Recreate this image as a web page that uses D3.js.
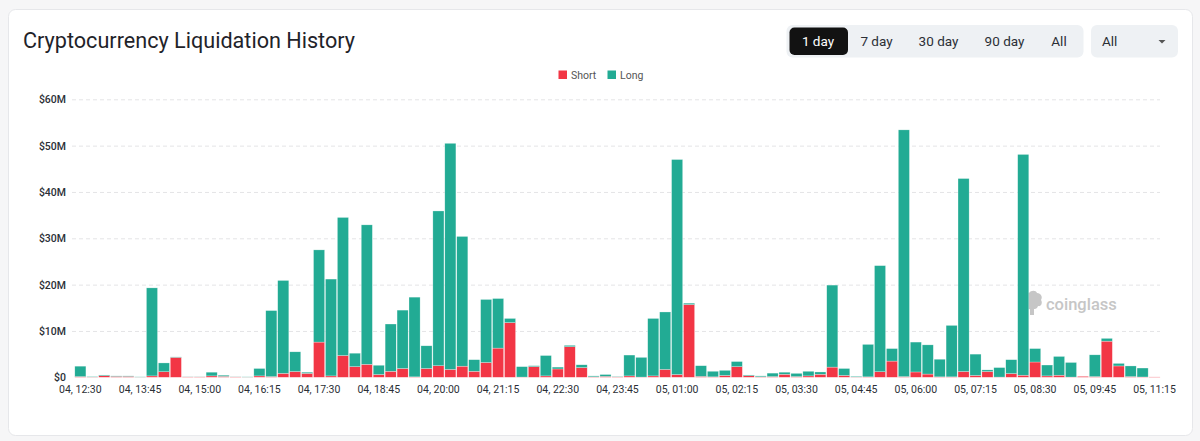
<!DOCTYPE html>
<html>
<head>
<meta charset="utf-8">
<script src="https://cdn.jsdelivr.net/npm/d3@7/dist/d3.min.js"></script>
<style>
  html, body { margin: 0; padding: 0; background: #f6f6f7; }
  svg { display: block; font-family: Roboto, "Noto Sans", sans-serif; }
</style>
</head>
<body>
<svg id="chart" width="1200" height="441"></svg>
<script>
// ---------- data ----------
const categories = [
  "04, 12:30","04, 12:45","04, 13:00","04, 13:15","04, 13:30","04, 13:45","04, 14:00","04, 14:15","04, 14:30","04, 14:45",
  "04, 15:00","04, 15:15","04, 15:30","04, 15:45","04, 16:00","04, 16:15","04, 16:30","04, 16:45","04, 17:00","04, 17:15",
  "04, 17:30","04, 17:45","04, 18:00","04, 18:15","04, 18:30","04, 18:45","04, 19:00","04, 19:15","04, 19:30","04, 19:45",
  "04, 20:00","04, 20:15","04, 20:30","04, 20:45","04, 21:00","04, 21:15","04, 21:30","04, 21:45","04, 22:00","04, 22:15",
  "04, 22:30","04, 22:45","04, 23:00","04, 23:15","04, 23:30","04, 23:45","05, 00:00","05, 00:15","05, 00:30","05, 00:45",
  "05, 01:00","05, 01:15","05, 01:30","05, 01:45","05, 02:00","05, 02:15","05, 02:30","05, 02:45","05, 03:00","05, 03:15",
  "05, 03:30","05, 03:45","05, 04:00","05, 04:15","05, 04:30","05, 04:45","05, 05:00","05, 05:15","05, 05:30","05, 05:45",
  "05, 06:00","05, 06:15","05, 06:30","05, 06:45","05, 07:00","05, 07:15","05, 07:30","05, 07:45","05, 08:00","05, 08:15",
  "05, 08:30","05, 08:45","05, 09:00","05, 09:15","05, 09:30","05, 09:45","05, 10:00","05, 10:15","05, 10:30","05, 10:45",
  "05, 11:15"
];
// values in $M
const shortValues = [
  0.15,0.05,0.35,0.2,0.2,0.03,0.3,1.2,4.3,0.1,
  0.1,0.3,0.2,0.1,0.03,0.3,0.15,0.85,1.25,0.85,
  7.6,0.3,4.7,2.3,2.8,0.6,1.3,1.9,0.1,1.9,
  2.5,1.7,2.4,1.3,3.2,6.3,11.8,0.05,2.3,0.3,
  1.8,6.6,2.1,0.1,0.2,0.1,0.3,0.05,0.3,1.7,
  0.6,15.7,0.2,0.1,0.4,2.3,0.35,0.1,0.15,0.65,
  0.15,0.3,0.65,2.2,0.4,0.05,0.1,1.2,3.5,0.15,
  1.15,0.7,0.1,0.1,1.25,0.4,1.25,0.05,0.8,0.45,
  3.3,0.3,0.45,0.05,0.2,0.15,7.8,2.45,0.15,0.07,
  0.08
];
const longValues = [
  2.25,0.1,0.15,0.1,0.1,0.07,19.0,1.9,0.1,0.05,
  0.05,0.8,0.25,0.05,0.07,1.6,14.25,20.05,4.25,0.25,
  19.9,20.9,29.8,2.9,30.1,2.0,10.2,12.6,17.2,4.9,
  33.4,48.8,28.0,2.5,13.6,10.7,0.9,2.25,0.2,4.4,
  0.4,0.3,0.6,0.2,0.4,0.1,4.5,4.25,12.4,12.4,
  46.4,0.3,2.3,1.2,1.1,1.1,0.15,0.2,0.75,0.45,
  0.7,1.0,0.5,17.7,1.5,0.15,7.0,22.9,2.7,53.25,
  6.45,6.3,3.8,11.1,41.65,4.6,0.35,2.05,3.0,47.65,
  2.9,2.35,4.05,3.15,0.0,4.7,0.6,0.55,2.3,1.93,
  0.0
];
const xTickLabels = [
  "04, 12:30","04, 13:45","04, 15:00","04, 16:15","04, 17:30","04, 18:45","04, 20:00","04, 21:15","04, 22:30","04, 23:45",
  "05, 01:00","05, 02:15","05, 03:30","05, 04:45","05, 06:00","05, 07:15","05, 08:30","05, 09:45","05, 11:15"
];
const yTicks = [0, 10, 20, 30, 40, 50, 60];
const seriesNames = ["Short", "Long"];
const rangeButtons = ["1 day", "7 day", "30 day", "90 day", "All"];

// ---------- style ----------
const colors = { Short: "#f23645", Long: "#22ab94" };

const svg = d3.select("#chart");

// card
svg.append("rect").attr("x", 8.5).attr("y", 9.5).attr("width", 1184).attr("height", 426)
  .attr("rx", 7).attr("fill", "#fff").attr("stroke", "#e6e7ea");

// title
svg.append("text").attr("x", 23).attr("y", 47.5)
  .attr("font-size", 21.5).attr("font-weight", 400).attr("fill", "#1f2329")
  .attr("textLength", 332).attr("lengthAdjust", "spacingAndGlyphs")
  .text("Cryptocurrency Liquidation History");

// range buttons
const btnCenters = [818, 876.5, 938.5, 1004.5, 1059];
svg.append("rect").attr("x", 786.5).attr("y", 25).attr("width", 297).attr("height", 32.5)
  .attr("rx", 6).attr("fill", "#eef1f4");
svg.append("rect").attr("x", 789.5).attr("y", 27.5).attr("width", 58.5).attr("height", 27.5)
  .attr("rx", 5).attr("fill", "#121212");
svg.selectAll("text.btn").data(rangeButtons).join("text").attr("class", "btn")
  .attr("x", (d, i) => btnCenters[i]).attr("y", 46)
  .attr("text-anchor", "middle").attr("font-size", 13.5)
  .attr("fill", (d, i) => i === 0 ? "#ffffff" : "#2b2f36")
  .text(d => d);

// dropdown
svg.append("rect").attr("x", 1091).attr("y", 25).attr("width", 87).attr("height", 32.5)
  .attr("rx", 6).attr("fill", "#eef1f4");
svg.append("text").attr("x", 1102).attr("y", 46).attr("font-size", 13.5).attr("fill", "#2b2f36").text("All");
svg.append("path").attr("d", "M1158.5,40 L1165.5,40 L1162,43.5 Z").attr("fill", "#555");

// legend
const legendX = [558.5, 607.5];
const lg = svg.selectAll("g.legend").data(seriesNames).join("g").attr("class", "legend")
  .attr("transform", (d, i) => `translate(${legendX[i]},70.5)`);
lg.append("rect").attr("width", 8.5).attr("height", 8.5).attr("fill", d => colors[d]);
lg.append("text").attr("x", 12.5).attr("y", 8).attr("font-size", 10.5).attr("fill", "#555").text(d => d);

// scales
const x = d3.scaleBand().domain(categories).range([74.4, 1160.5]).paddingInner(0.07).paddingOuter(0.035);
const y = d3.scaleLinear().domain([0, 60]).range([377.3, 99.3]);

// gridlines
svg.append("g").selectAll("line").data(yTicks.filter(d => d > 0)).join("line")
  .attr("x1", 72).attr("x2", 1160).attr("y1", d => y(d) + 0.5).attr("y2", d => y(d) + 0.5)
  .attr("stroke", "#e4e4e6").attr("stroke-dasharray", "4,3").attr("stroke-width", 1);

// watermark
const wm = svg.append("g").attr("fill", "#c6c6c6");
wm.append("path").attr("d",
  "M1023,298 C1022,294 1026,291 1029,293 C1031,290 1036,290 1037,293 C1041,293 1043,297 1041,300 " +
  "C1043,303 1041,307 1038,306 C1037,309 1035,309 1034,309 L1034,315 L1030,315 L1030,309 " +
  "C1026,310 1023,307 1024,304 C1021,303 1021,299 1023,298 Z");
wm.append("text").attr("x", 1046).attr("y", 309.5).attr("font-size", 16.5).attr("font-weight", 500)
  .attr("fill", "#c6c6c6").text("coinglass");

// stacked bars
const rows = categories.map((c, i) => ({ cat: c, Short: shortValues[i], Long: longValues[i] }));
const stack = d3.stack().keys(seriesNames)(rows);
svg.append("g").selectAll("g").data(stack).join("g")
  .attr("fill", d => colors[d.key])
  .selectAll("rect").data(d => d).join("rect")
  .attr("x", d => x(d.data.cat))
  .attr("width", x.bandwidth())
  .attr("y", d => y(d[1]))
  .attr("height", d => Math.max(0, y(d[0]) - y(d[1])))
  .attr("stroke", "#ffffff").attr("stroke-opacity", 0.55).attr("stroke-width", 0.5);

// x axis
const xAxis = svg.append("g").attr("transform", "translate(0,377.3)")
  .call(d3.axisBottom(x).tickValues(xTickLabels).tickSize(0).tickPadding(8));
xAxis.select(".domain").remove();
xAxis.selectAll("text").attr("font-size", 10.5).attr("fill", "#2b2f36")
  .attr("font-family", "Roboto, 'Noto Sans', sans-serif");

// y axis
const yAxis = svg.append("g").attr("transform", "translate(72,0)")
  .call(d3.axisLeft(y).tickValues(yTicks).tickSize(0).tickPadding(6)
    .tickFormat(d => d === 0 ? "$0" : `$${d}M`));
yAxis.select(".domain").remove();
yAxis.selectAll("text").attr("font-size", 10.5).attr("font-weight", 500).attr("fill", "#2b2f36")
  .attr("font-family", "Roboto, 'Noto Sans', sans-serif");
</script>
</body>
</html>
